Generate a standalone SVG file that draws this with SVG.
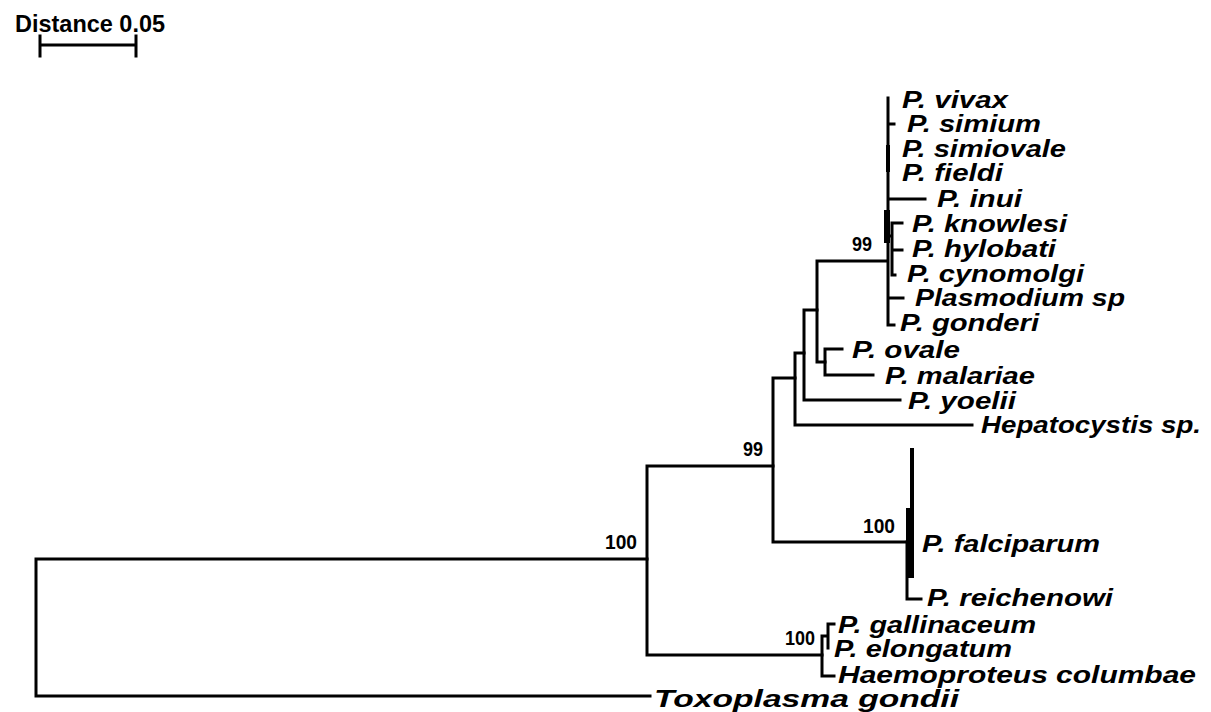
<svg xmlns="http://www.w3.org/2000/svg" width="1211" height="712" viewBox="0 0 1211 712">
<style>
.br{fill:none;stroke:#000;stroke-width:3;stroke-linejoin:miter;stroke-linecap:square}
.sp{font-family:"Liberation Sans",Arial,sans-serif;font-weight:bold;font-style:italic;font-size:24px;fill:#000}
.bs{font-family:"Liberation Sans",Arial,sans-serif;font-weight:bold;font-size:21px;fill:#000}
.tt{font-family:"Liberation Sans",Arial,sans-serif;font-weight:bold;font-size:24px;fill:#000}
</style>
<rect width="1211" height="712" fill="#fff"/>
<g id="scale">
<text class="tt" x="15" y="32" textLength="150" lengthAdjust="spacingAndGlyphs">Distance 0.05</text>
<path class="br" d="M40,45H136M40,36V56M136,36V56"/>
</g>
<g id="branches">
<path class="br" d="M36,559V696M36,559H647M36,696H650"/>
<path class="br" d="M647,466V655M647,466H773M647,655H822"/>
<path class="br" d="M773,378V542M773,378H795M773,542H907"/>
<path class="br" d="M795,353V425M795,353H804M795,425H972"/>
<path class="br" d="M804,310V400M804,310H817M804,400H900"/>
<path class="br" d="M817,261V362M817,261H887M817,362H825"/>
<path class="br" d="M825,349V375M825,349H842M825,375H873"/>
<path class="br" d="M888,98V325M888,124H894M888,199H925M888,236H892M892,223V275M892,223H902M892,250H902M892,275H895M888,298H903M888,325H894"/>
<rect x="884" y="210" width="6" height="33" fill="#000"/>
<rect x="886" y="145" width="4" height="27" fill="#000"/>
<rect x="910" y="448" width="4" height="62" fill="#000"/>
<rect x="906" y="508" width="8" height="44" fill="#000"/>
<rect x="908" y="552" width="6" height="26" fill="#000"/>
<path class="br" d="M907,542V599H921"/>
<path class="br" d="M822,636V676H834M822,636H828M828,624V648M828,624H834"/>
</g>
<g id="bootstrap">
<text class="bs" x="637" y="549" text-anchor="end" textLength="32" lengthAdjust="spacingAndGlyphs">100</text>
<text class="bs" x="763" y="456" text-anchor="end" textLength="20" lengthAdjust="spacingAndGlyphs">99</text>
<text class="bs" x="872" y="251" text-anchor="end" textLength="20" lengthAdjust="spacingAndGlyphs">99</text>
<text class="bs" x="895" y="533" text-anchor="end" textLength="32" lengthAdjust="spacingAndGlyphs">100</text>
<text class="bs" x="815" y="645" text-anchor="end" textLength="30" lengthAdjust="spacingAndGlyphs">100</text>
</g>
<g id="n-vivax"><text class="sp" x="902" y="108" textLength="106" lengthAdjust="spacingAndGlyphs">P. vivax</text></g>
<g id="n-simium"><text class="sp" x="907" y="132" textLength="134" lengthAdjust="spacingAndGlyphs">P. simium</text></g>
<g id="n-simiovale"><text class="sp" x="902" y="157" textLength="164" lengthAdjust="spacingAndGlyphs">P. simiovale</text></g>
<g id="n-fieldi"><text class="sp" x="902" y="181" textLength="101" lengthAdjust="spacingAndGlyphs">P. fieldi</text></g>
<g id="n-inui"><text class="sp" x="937" y="207" textLength="85" lengthAdjust="spacingAndGlyphs">P. inui</text></g>
<g id="n-knowlesi"><text class="sp" x="912" y="232" textLength="155" lengthAdjust="spacingAndGlyphs">P. knowlesi</text></g>
<g id="n-hylobati"><text class="sp" x="912" y="257" textLength="144" lengthAdjust="spacingAndGlyphs">P. hylobati</text></g>
<g id="n-cynomolgi"><text class="sp" x="907" y="282" textLength="177" lengthAdjust="spacingAndGlyphs">P. cynomolgi</text></g>
<g id="n-plasmodium-sp"><text class="sp" x="915" y="306" textLength="210" lengthAdjust="spacingAndGlyphs">Plasmodium sp</text></g>
<g id="n-gonderi"><text class="sp" x="900" y="331" textLength="139" lengthAdjust="spacingAndGlyphs">P. gonderi</text></g>
<g id="n-ovale"><text class="sp" x="852" y="358" textLength="108" lengthAdjust="spacingAndGlyphs">P. ovale</text></g>
<g id="n-malariae"><text class="sp" x="885" y="384" textLength="150" lengthAdjust="spacingAndGlyphs">P. malariae</text></g>
<g id="n-yoelii"><text class="sp" x="908" y="409" textLength="108" lengthAdjust="spacingAndGlyphs">P. yoelii</text></g>
<g id="n-hepatocystis"><text class="sp" x="981" y="433" textLength="220" lengthAdjust="spacingAndGlyphs">Hepatocystis sp.</text></g>
<g id="n-falciparum"><text class="sp" x="922" y="552" textLength="178" lengthAdjust="spacingAndGlyphs">P. falciparum</text></g>
<g id="n-reichenowi"><text class="sp" x="927" y="606" textLength="186" lengthAdjust="spacingAndGlyphs">P. reichenowi</text></g>
<g id="n-gallinaceum"><text class="sp" x="838" y="633" textLength="198" lengthAdjust="spacingAndGlyphs">P. gallinaceum</text></g>
<g id="n-elongatum"><text class="sp" x="834" y="657" textLength="178" lengthAdjust="spacingAndGlyphs">P. elongatum</text></g>
<g id="n-haemoproteus"><text class="sp" x="838" y="683" textLength="358" lengthAdjust="spacingAndGlyphs">Haemoproteus columbae</text></g>
<g id="n-toxoplasma"><text class="sp" x="654" y="707" textLength="305" lengthAdjust="spacingAndGlyphs">Toxoplasma gondii</text></g>
</svg>
